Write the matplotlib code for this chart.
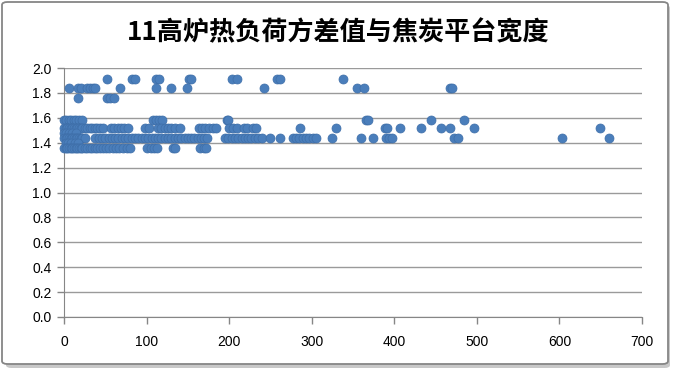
import matplotlib
matplotlib.use('Agg')
import matplotlib.pyplot as plt
from matplotlib.patches import FancyBboxPatch
from matplotlib.ticker import FormatStrFormatter

plt.rcParams['font.family'] = ['Liberation Sans', 'DejaVu Sans']

title = "11高炉热负荷方差值与焦炭平台宽度"

# x positions for each (discrete) platform width level
y_levels = [1.91, 1.84, 1.76, 1.58, 1.52, 1.48, 1.44, 1.40, 1.36]
x_191 = [52, 82, 86, 112, 115, 151, 154, 203, 209, 258, 261, 338]
x_184 = [6, 17, 21, 28, 31, 35, 38, 68, 111, 130, 149, 242, 355, 363, 468, 470]
x_176 = [17, 52, 56, 60]
x_158 = [0, 3, 6, 9, 12, 15, 18, 22, 108, 111, 115, 119, 197, 199, 366, 368, 445, 485]
x_152 = [0, 2, 4, 6, 8, 10, 12, 14, 16, 18, 20, 22, 25, 28, 31, 34, 37, 40, 43, 47,
         57, 61, 65, 69, 73, 77, 98, 103, 114, 118, 122, 126, 130, 135, 140,
         163, 167, 171, 175, 180, 184, 200, 205, 210, 218, 222, 229, 232,
         286, 330, 389, 391, 407, 432, 457, 467, 496, 649]
x_148 = [0, 3, 6, 10, 14]
x_144 = [0, 2, 4, 6, 8, 10, 12, 14, 16, 18, 20, 22, 25,
         38, 42, 46, 50, 54, 58, 62, 66, 70, 74, 78, 82, 86, 90, 94, 98, 102,
         106, 110, 114, 118, 122, 126, 130, 134, 138, 142, 146, 150, 154, 158,
         162, 166, 170, 173, 195, 199, 203, 207, 211, 215, 219, 223, 227, 231,
         235, 240, 250, 261, 277, 281, 285, 289, 293, 297, 301, 305,
         324, 360, 374, 390, 393, 397, 472, 477, 603, 660]
x_140 = [2, 5, 9, 13, 17]
x_136 = [0, 2, 4, 6, 8, 10, 12, 14, 16, 18, 20, 22, 25, 28, 31, 34, 37, 40, 43, 47,
         51, 55, 59, 63, 67, 72, 76, 80, 101, 105, 109, 113, 132, 135, 165, 169, 172]

x_rows = [x_191, x_184, x_176, x_158, x_152, x_148, x_144, x_140, x_136]

xs, ys = [], []
for lvl, row in zip(y_levels, x_rows):
    xs += row
    ys += [lvl] * len(row)

fig = plt.figure(figsize=(6.76, 3.72), dpi=100)

# chart frame with a soft shadow
shadow = FancyBboxPatch((6 / 676, 4 / 372), 664 / 676, 363 / 372,
                        boxstyle="round,pad=0,rounding_size=0.008",
                        transform=fig.transFigure, facecolor='#c8c8c8',
                        edgecolor='none', zorder=0)
frame = FancyBboxPatch((2 / 676, 8 / 372), 666 / 676, 362 / 372,
                       boxstyle="round,pad=0,rounding_size=0.008",
                       transform=fig.transFigure, facecolor='white',
                       edgecolor='#868686', linewidth=1.3, zorder=1)
fig.patches.extend([shadow, frame])

ax = fig.add_axes([64 / 676, 1 - 317 / 372, (642 - 64) / 676, (317 - 68) / 372])
ax.set_facecolor('none')
ax.set_zorder(2)

ax.scatter(xs, ys, s=42, color='#4a7ebb', edgecolors='#3e6ea8', linewidths=0.5,
           clip_on=False, zorder=3)

ax.set_xlim(0, 700)
ax.set_ylim(0, 2.0)
ax.set_xticks(range(0, 701, 100))
ax.set_yticks([i / 10 for i in range(0, 21, 2)])
ax.yaxis.set_major_formatter(FormatStrFormatter('%.1f'))

ax.grid(axis='y', color='#9a9a9a', linewidth=1.0)
ax.set_axisbelow(True)
for side in ['top', 'right']:
    ax.spines[side].set_visible(False)
for side in ['left', 'bottom']:
    ax.spines[side].set_color('#868686')
ax.tick_params(axis='both', colors='#868686', labelcolor='black', labelsize=10,
               length=5, width=1, direction='out')
ax.tick_params(axis='y', pad=4)
ax.tick_params(axis='x', pad=8)

fig.text(0.5, 1 - 33 / 372, title, ha='center', va='center', fontsize=18.8,
         fontweight='bold', family=['Noto Sans CJK SC', 'DejaVu Sans'])

fig.savefig('out.png', dpi=100)
